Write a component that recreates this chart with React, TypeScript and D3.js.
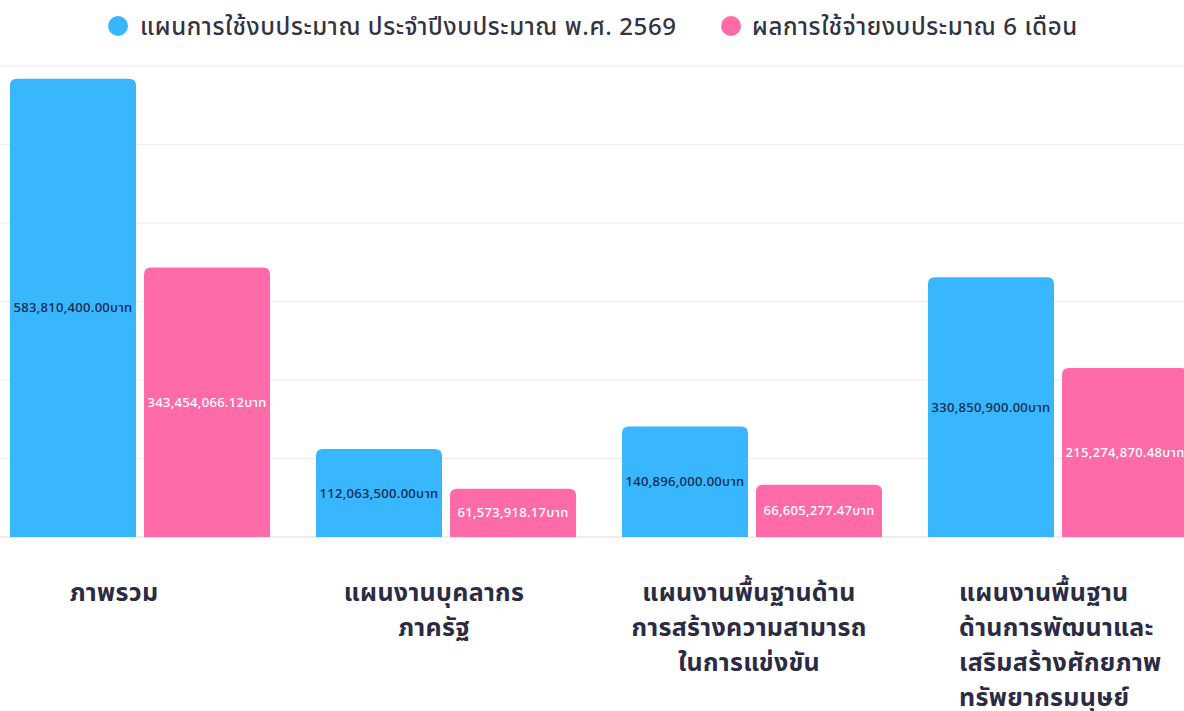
import React from 'react'
import * as d3 from 'd3'

const categories = ['ภาพรวม', 'แผนงานบุคลากรภาครัฐ', 'แผนงานพื้นฐานด้านการสร้างความสามารถในการแข่งขัน', 'แผนงานพื้นฐานด้านการพัฒนาและเสริมสร้างศักยภาพทรัพยากรมนุษย์']
const categoryLines = [
    ['ภาพรวม'],
    ['แผนงานบุคลากร', 'ภาครัฐ'],
    ['แผนงานพื้นฐานด้าน', 'การสร้างความสามารถ', 'ในการแข่งขัน'],
    ['แผนงานพื้นฐาน', 'ด้านการพัฒนาและ', 'เสริมสร้างศักยภาพ', 'ทรัพยากรมนุษย์']
]
const seriesNames = ['แผนการใช้งบประมาณ ประจำปีงบประมาณ พ.ศ. 2569', 'ผลการใช้จ่ายงบประมาณ 6 เดือน']
const planValues = [583810400.0, 112063500.0, 140896000.0, 330850900.0]
const spentValues = [343454066.12, 61573918.17, 66605277.47, 215274870.48]
const yTicks = [0, 100e6, 200e6, 300e6, 400e6, 500e6, 600e6]

const W = 1184
const H = 711
const colors = ['#38b6fe', '#fe6ba8']
const labelColors = ['#14284b', '#ffffff']
const thaiFont = '"Noto Sans Thai", "Noto Sans Thai Looped", Tahoma, "Noto Sans", sans-serif'

// label block placement relative to group center (layout only)
const labelShift = [-26, -12, -3, 0]
const labelAnchor = ['middle', 'middle', 'middle', 'start']

const fmt = (v: number) => d3.format(',.2f')(v) + 'บาท'

const topRounded = (x: number, y: number, w: number, h: number, r: number) => {
    const rr = Math.min(r, h / 2, w / 2)
    return `M${x},${y + h}V${y + rr}Q${x},${y} ${x + rr},${y}H${x + w - rr}Q${x + w},${y} ${x + w},${y + rr}V${y + h}Z`
}

export default function App() {
    const x0 = d3.scaleBand<string>().domain(categories).range([-13, 1211]).paddingInner(0.15).paddingOuter(0.075)
    const x1 = d3.scaleBand<string>().domain(['0', '1']).range([0, x0.bandwidth()]).paddingInner(0.06)
    const y = d3.scaleLinear().domain([0, 600e6]).range([537, 66])

    const series = [planValues, spentValues]

    return (
        <div style={{ position: 'fixed', left: 0, top: 0, width: W, height: H, background: '#fff' }}>
            <svg width={W} height={H} style={{ display: 'block' }}>
                {yTicks.map(t =>
                    <line key={t} x1={0} x2={W} y1={y(t)} y2={y(t)} stroke={t === 0 ? '#dedede' : '#ececec'} strokeWidth={1} />
                )}

                {categories.map((c, i) =>
                    <g key={c} transform={`translate(${x0(c)},0)`}>
                        {series.map((vals, s) => {
                            const bx = x1(String(s)) as number
                            const by = y(vals[i])
                            const bh = y(0) - by
                            return (
                                <g key={s}>
                                    <path d={topRounded(bx, by, x1.bandwidth(), bh, 7)} fill={colors[s]} />
                                    <text x={bx + x1.bandwidth() / 2} y={by + bh / 2} dy="0.35em" textAnchor="middle"
                                        fontFamily={thaiFont} fontSize={13} fontWeight={500} fill={labelColors[s]}
                                        letterSpacing={0.3}>
                                        {fmt(vals[i])}
                                    </text>
                                </g>
                            )
                        })}
                    </g>
                )}

                {categories.map((c, i) => {
                    const cx = (x0(c) as number) + x0.bandwidth() / 2 + labelShift[i]
                    const anchor = labelAnchor[i]
                    const lx = anchor === 'start' ? cx - 99 : cx
                    return (
                        <text key={c} x={lx} y={601} textAnchor={anchor} fontFamily={thaiFont}
                            fontSize={25} fontWeight={700} fill="#2b2c44" letterSpacing={0.3}>
                            {categoryLines[i].map((l, k) =>
                                <tspan key={k} x={lx} dy={k === 0 ? 0 : 35}>{l}</tspan>
                            )}
                        </text>
                    )
                })}

                <g>
                    <circle cx={118} cy={26} r={10} fill={colors[0]} />
                    <text x={140} y={35} fontFamily={thaiFont} fontSize={24} fontWeight={500} fill="#333344" letterSpacing={0.6}>{seriesNames[0]}</text>
                    <circle cx={731} cy={26} r={10} fill={colors[1]} />
                    <text x={752} y={35} fontFamily={thaiFont} fontSize={24} fontWeight={500} fill="#333344" letterSpacing={0.6}>{seriesNames[1]}</text>
                </g>
            </svg>
        </div>
    )
}
